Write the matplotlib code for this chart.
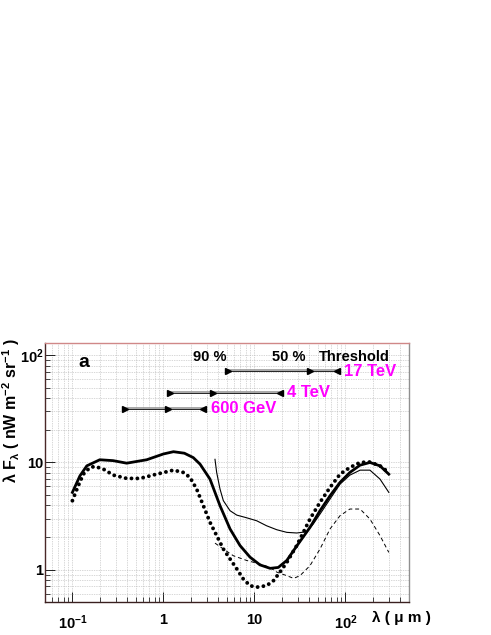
import matplotlib
matplotlib.use('Agg')
import matplotlib.pyplot as plt
import numpy as np
from matplotlib.ticker import FixedLocator, LogLocator, NullFormatter

plt.rcParams['font.family'] = ['Liberation Sans', 'DejaVu Sans']
plt.rcParams['font.weight'] = 'bold'
plt.rcParams['mathtext.fontset'] = 'custom'
plt.rcParams['mathtext.rm'] = 'Liberation Sans:bold'
plt.rcParams['mathtext.it'] = 'Liberation Sans:bold'
plt.rcParams['mathtext.bf'] = 'Liberation Sans:bold'

# EBL model curves (wavelength in micron, lambda F_lambda in nW m^-2 sr^-1)
thick_x = [0.1, 0.121, 0.144, 0.2, 0.28, 0.395, 0.656, 1.0, 1.29, 1.7, 2.13, 2.53,
           3.25, 4.19, 5.4, 6.95, 8.95, 11.5, 14.9, 18.3, 22.7, 29, 40.8, 52.6,
           67.8, 87.3, 112, 145, 186, 240, 300]
thick_y = [5.26, 7.5, 9.3, 10.6, 10.4, 9.85, 10.6, 12.0, 12.6, 12.2, 11.1, 9.64,
           7.0, 3.95, 2.40, 1.68, 1.31, 1.11, 1.03, 1.05, 1.22, 1.65, 2.48, 3.55,
           4.89, 6.52, 8.07, 9.44, 10.0, 9.3, 7.78]

dot_x = [0.1, 0.116, 0.132, 0.156, 0.177, 0.219, 0.282, 0.395, 0.554, 0.843, 1.29,
         1.66, 1.96, 2.32, 2.75, 3.25, 3.85, 4.56, 5.4, 6.4, 7.55, 8.95, 10.6,
         13.6, 16.2, 19.1, 22.7, 29.2, 40.8, 52.6, 67.8, 87.3, 112, 145, 186, 240, 300]
dot_y = [4.4, 6.06, 7.78, 8.98, 9.18, 8.67, 7.62, 7.1, 7.1, 7.78, 8.48,
         8.07, 7.25, 5.65, 3.95, 2.77, 2.08, 1.56, 1.26, 1.02, 0.82, 0.71, 0.687,
         0.71, 0.79, 0.95, 1.17, 1.68, 2.97, 4.25, 5.85, 7.78, 8.98, 10.0, 10.1, 9.3, 8.07]

thin_x = [3.69, 3.85, 4.19, 4.56, 5.4, 6.4, 8.22, 10.6, 13.6, 17.6, 22.7, 29.2,
          37.6, 44.4, 52.6, 67.8, 87.3, 112, 145, 186, 240, 300]
thin_y = [10.7, 8.07, 5.65, 4.4, 3.55, 3.23, 3.05, 2.86, 2.57, 2.36, 2.23, 2.2,
          2.26, 2.67, 3.3, 4.56, 6.28, 7.62, 8.48, 8.48, 7.0, 5.26]

dash_x = [3.69, 4.56, 5.87, 8.22, 11.5, 14.9, 17.6, 22.7, 27, 31.7, 40.8, 52.6,
          67.8, 87.3, 112, 145, 186, 240, 300]
dash_y = [1.77, 1.56, 1.35, 1.22, 1.13, 1.05, 0.95, 0.88, 0.83, 0.88, 1.09, 1.56,
          2.4, 3.19, 3.68, 3.68, 2.97, 2.08, 1.45]

# wavelength ranges probed at each energy: start, 90 %, 50 %/threshold
energies = ['17 TeV', '4 TeV', '600 GeV']
range_lo = [5.17, 1.18, 0.378]
range_mid = [40.8, 3.53, 1.13]
range_hi = [80, 19.1, 2.75]
range_level = [71, 44.8, 31.8]

fig = plt.figure(figsize=(4.91, 6.35), dpi=100)
ax = fig.add_axes([45/491, 33/635, 364/491, 259/635])

ax.plot(thick_x, thick_y, color='black', lw=2.0, solid_joinstyle='round')
ax.plot(dot_x, dot_y, color='black', lw=2.8, linestyle=(0, (0.01, 1.5)),
        dash_capstyle='round')
ax.plot(thin_x, thin_y, color='black', lw=0.8)
ax.plot(dash_x, dash_y, color='black', lw=0.7, linestyle=(0, (4, 3)))

for lo, mid, hi, lev, lab in zip(range_lo, range_mid, range_hi, range_level, energies):
    ax.plot([lo, hi], [lev * 1.015, lev * 1.015], color='#999999', lw=1.2)
    ax.plot([lo, hi], [lev, lev], color='black', lw=0.6)
    ax.plot([lo, mid], [lev, lev], linestyle='none', marker='>', ms=4.5, color='black')
    ax.plot([hi], [lev], linestyle='none', marker='<', ms=4.5, color='black')
    ax.text(hi * 1.2, lev, lab, color='#ff00ff', fontsize=12, fontweight='bold',
            ha='left', va='center')

ax.set_xscale('log')
ax.set_yscale('log')
ax.set_xlim(0.05, 500)
ax.set_ylim(0.5, 130)

ax.xaxis.set_major_locator(FixedLocator([0.1, 1, 10, 100]))
ax.set_xticklabels([r'$\mathbf{10^{-1}}$', '1', '10', r'$\mathbf{10^{2}}$'])
ax.yaxis.set_major_locator(FixedLocator([1, 10, 100]))
ax.set_yticklabels(['1', '10', r'$\mathbf{10^{2}}$'])
ax.xaxis.set_minor_locator(LogLocator(base=10, subs=np.arange(2, 10)))
ax.yaxis.set_minor_locator(LogLocator(base=10, subs=np.arange(2, 10)))
ax.xaxis.set_minor_formatter(NullFormatter())
ax.yaxis.set_minor_formatter(NullFormatter())

ax.tick_params(which='both', direction='in', top=False, right=False, labelsize=10.5)
ax.tick_params(which='major', length=7, width=0.6)
ax.tick_params(which='minor', length=3.5, width=0.5)
ax.tick_params(axis='x', pad=8)
ax.tick_params(axis='y', pad=1)
for lab in ax.get_xticklabels() + ax.get_yticklabels():
    lab.set_fontweight('bold')

ax.grid(True, which='both', color='#b0b0b0', lw=0.5, linestyle=(0, (1, 1.5)))

ax.spines['top'].set_color('#d08888')
ax.spines['left'].set_color('#4a2828')
ax.spines['bottom'].set_color('#3a2020')
ax.spines['right'].set_color('#909090')
for s in ax.spines.values():
    s.set_linewidth(1.0)

ax.text(0.106, 0.923, 'a', transform=ax.transAxes, fontsize=14, fontweight='bold',
        ha='center', va='center')
ax.text(0.453, 0.947, '90 %', transform=ax.transAxes, fontsize=10.5,
        fontweight='bold', ha='center', va='center')
ax.text(0.67, 0.947, '50 %', transform=ax.transAxes, fontsize=10.5,
        fontweight='bold', ha='center', va='center')
ax.text(0.85, 0.947, 'Threshold', transform=ax.transAxes, fontsize=10.5,
        fontweight='bold', ha='center', va='center')

fig.text(11/491, 1 - 338/635, r'λ F$_{λ}$ ( nW m$^{-2}$ sr$^{-1}$ )', rotation=90,
         ha='center', va='top', fontsize=11.5, fontweight='bold')
fig.text(372/491, 1 - 618/635, 'λ ( μ m )', ha='left', va='center',
         fontsize=11, fontweight='bold')

fig.savefig('out.png', dpi=100)
